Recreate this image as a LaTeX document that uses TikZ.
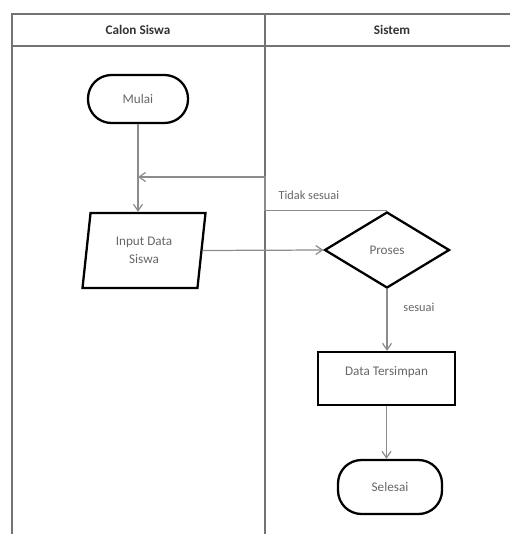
\documentclass[tikz,border=0pt]{standalone}
\usepackage{fontspec}
\setmainfont{Carlito}
\usetikzlibrary{shapes.geometric,arrows.meta}

\begin{document}
\begin{tikzpicture}[auto,
    lane/.style={draw=black!55,line width=1.1pt},
    head node/.style={font=\fontsize{7.5}{9}\selectfont\bfseries,text=black!80},
    terminal node/.style={rectangle,rounded corners=0.47cm,draw,line width=1.3pt,font=\fontsize{7.5}{9}\selectfont,text=black!60},
    io node/.style={trapezium,trapezium left angle=78,trapezium right angle=102,trapezium stretches body,draw,line width=1.3pt,align=center,font=\fontsize{7.5}{10}\selectfont,text=black!60},
    decision node/.style={diamond,draw,line width=1.3pt,inner sep=0pt,font=\fontsize{7.5}{9}\selectfont,text=black!60},
    process node/.style={rectangle,draw,line width=1.3pt,font=\fontsize{7.5}{9}\selectfont,text=black!60},
    line/.style={draw=black!45,line width=0.7pt,-{Straight Barb[length=1.3mm,width=1.8mm]}},
    note/.style={font=\fontsize{7}{8}\selectfont,text=black!60}]
    \useasboundingbox (0,0) rectangle (10.2,-10.68);

    % swimlanes
    \draw[lane] (10.2,-0.28) -- (0.24,-0.28) -- (0.24,-10.68);
    \draw[lane] (0.24,-0.92) -- (10.2,-0.92);
    \draw[lane] (5.3,-0.28) -- (5.3,-10.68);
    \node[head node] (calon) at (2.76,-0.6) {Calon Siswa};
    \node[head node] (sistem) at (7.84,-0.6) {Sistem};

    % flow
    \node[terminal node,minimum width=2cm,minimum height=0.96cm] (mulai) at (2.76,-1.98) {Mulai};
    \node[io node,minimum width=2.46cm,minimum height=1.5cm] (input) at (2.88,-5.01) {Input Data\\Siswa};
    \node[decision node,minimum width=2.5cm,minimum height=1.52cm] (proses) at (7.74,-5.0) {Proses};
    \node[process node,minimum width=2.74cm,minimum height=1.06cm,text depth=0.3cm] (simpan) at (7.73,-7.57) {Data Tersimpan};
    \node[terminal node,minimum width=2.08cm,minimum height=1.08cm] (selesai) at (7.8,-9.74) {Selesai};

    \coordinate (belok) at (5.3,-3.54);
    \coordinate (kembali) at (mulai.south |- belok);

    \path[line] (mulai.south) -- (mulai.south |- input.north);
    \path[line] (input.east) -- (proses.west);
    \path[line] (proses.north) -| (belok) node[note,pos=0.32,above=0.1cm] {Tidak sesuai} -- (kembali);
    \path[line] (proses.south) -- node[note,pos=0.3,right=0.2cm] {sesuai} (proses.south |- simpan.north);
    \path[line] (simpan.south) -- (simpan.south |- selesai.north);
\end{tikzpicture}
\end{document}
